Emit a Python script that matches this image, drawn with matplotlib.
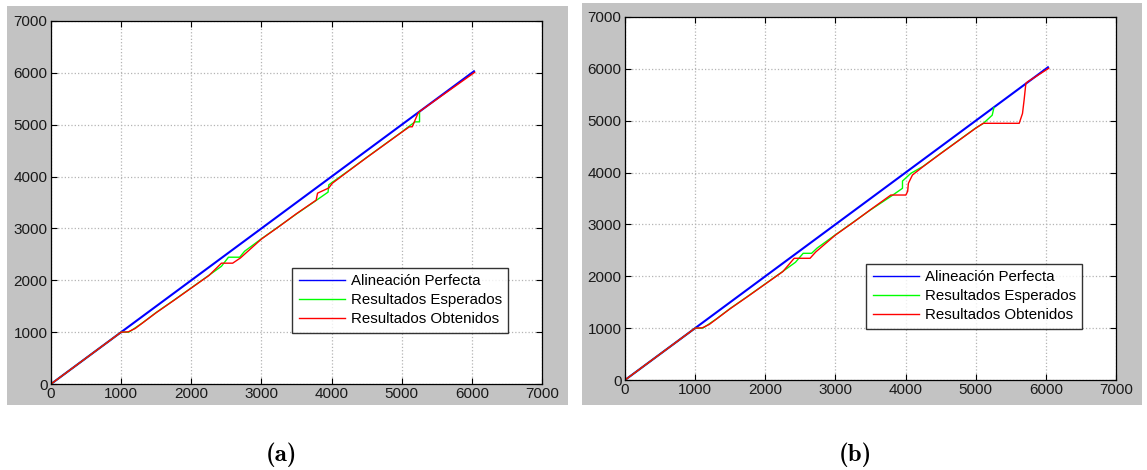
import matplotlib
matplotlib.use("Agg")
import matplotlib.pyplot as plt
from matplotlib.patches import Rectangle

# ---- data -------------------------------------------------------------
perfect_x = [0, 6030]
perfect_y = [0, 6030]

# (a)
expected_a_x = [0, 1000, 1110, 1300, 1500, 1750, 2000, 2250, 2430, 2530, 2690, 2760,
                3000, 3250, 3500, 3770, 3950, 3960, 4000, 4250, 4500, 4750, 5000,
                5100, 5190, 5254, 5254]
expected_a_y = [0, 1000, 1000, 1175, 1380, 1615, 1855, 2095, 2270, 2445, 2445, 2560,
                2800, 3040, 3280, 3530, 3700, 3840, 3880, 4120, 4370, 4615, 4860,
                4965, 5055, 5055, 5240]
obtained_a_x = [0, 1000, 1100, 1200, 1500, 1750, 2000, 2250, 2430, 2590, 2700,
                3000, 3250, 3500, 3780, 3800, 3960, 4010, 4250, 4500, 4750, 5000,
                5110, 5150, 5230, 5260, 6040]
obtained_a_y = [0, 1000, 1005, 1070, 1375, 1610, 1850, 2090, 2330, 2330, 2430,
                2795, 3035, 3285, 3545, 3680, 3780, 3870, 4115, 4365, 4610, 4855,
                4960, 4960, 5215, 5260, 6010]

# (b)
expected_b_x = [0, 1000, 1110, 1300, 1500, 1750, 2000, 2250, 2430, 2540, 2660, 2740,
                3000, 3250, 3500, 3790, 3956, 3956, 4076, 4250, 4500, 4750, 5000,
                5106, 5235, 5260]
expected_b_y = [0, 1000, 1000, 1175, 1380, 1615, 1855, 2095, 2270, 2443, 2443, 2545,
                2800, 3040, 3280, 3540, 3697, 3837, 3986, 4120, 4370, 4615, 4860,
                4945, 5106, 5254]
obtained_b_x = [0, 1000, 1100, 1200, 1500, 1750, 2000, 2250, 2412, 2638, 2720,
                3000, 3250, 3500, 3790, 4004, 4030, 4040, 4098, 4250, 4500, 4750, 5000,
                5106, 5620, 5667, 5690, 5715, 5740, 6040]
obtained_b_y = [0, 1000, 1005, 1070, 1375, 1610, 1850, 2090, 2347, 2347, 2470,
                2795, 3035, 3285, 3567, 3567, 3640, 3792, 3953, 4115, 4365, 4610, 4855,
                4950, 4950, 5140, 5400, 5720, 5750, 6010]

labels = ["Alineación Perfecta", "Resultados Esperados", "Resultados Obtenidos"]
ticks = [0, 1000, 2000, 3000, 4000, 5000, 6000, 7000]
captions = ["(a)", "(b)"]

# ---- figure -----------------------------------------------------------
W, H = 1147, 470
fig = plt.figure(figsize=(W / 100, H / 100), dpi=100)
fig.patch.set_facecolor("white")

panel_gray = "#c3c3c3"
panels = [(7, 6, 568, 405), (582, 3, 1142, 405)]
for (x0, y0, x1, y1) in panels:
    fig.patches.append(Rectangle((x0 / W, 1 - y1 / H), (x1 - x0) / W, (y1 - y0) / H,
                                 transform=fig.transFigure, facecolor=panel_gray,
                                 edgecolor="none", zorder=-1))

axes_px = [(51, 21, 542, 384), (625, 17, 1116, 380)]
series = [
    (expected_a_x, expected_a_y, obtained_a_x, obtained_a_y),
    (expected_b_x, expected_b_y, obtained_b_x, obtained_b_y),
]
caption_pos = [281, 855]

tick_font = dict(family="Liberation Sans", size=11)

for i, ((x0, y0, x1, y1), (ex, ey, ox, oy)) in enumerate(zip(axes_px, series)):
    ax = fig.add_axes([x0 / W, 1 - y1 / H, (x1 - x0) / W, (y1 - y0) / H])
    ax.set_zorder(2)
    ax.set_facecolor("white")
    ax.plot(perfect_x, perfect_y, color="#0000ff", lw=1.5, label=labels[0])
    ax.plot(ex, ey, color="#00ff00", lw=1.0, label=labels[1])
    ax.plot(ox, oy, color="#ff0000", lw=1.0, label=labels[2])
    ax.set_xlim(0, 7000)
    ax.set_ylim(0, 7000)
    ax.set_xticks(ticks)
    ax.set_yticks(ticks)
    ax.grid(True, color="#b4b4b4", linestyle=":", linewidth=0.9)
    ax.tick_params(direction="in", length=4, width=0.8, top=True, right=True,
                   colors="black", labelcolor="#1a1a1a", pad=2.5)
    for lab in ax.get_xticklabels() + ax.get_yticklabels():
        lab.set_fontfamily(tick_font["family"])
        lab.set_fontsize(tick_font["size"])
    for sp in ax.spines.values():
        sp.set_color("black")
        sp.set_linewidth(0.9)
    leg = ax.legend(loc="lower left", bbox_to_anchor=(0.491, 0.1405),
                    borderaxespad=0, frameon=True, fancybox=False,
                    prop={"family": "Liberation Sans", "size": 10.8},
                    handlelength=3.1, handletextpad=0.35, borderpad=0.45,
                    labelspacing=0.33)
    leg.get_frame().set_edgecolor("black")
    leg.get_frame().set_linewidth(1.0)
    for line in leg.get_lines():
        line.set_linewidth(1.0)

    fig.text(caption_pos[i] / W, 1 - 455 / H, captions[i], ha="center", va="center",
             fontsize=18, fontweight="bold", family=["cmb10", "DejaVu Serif"])

fig.savefig("out.png", dpi=100, facecolor="white")
